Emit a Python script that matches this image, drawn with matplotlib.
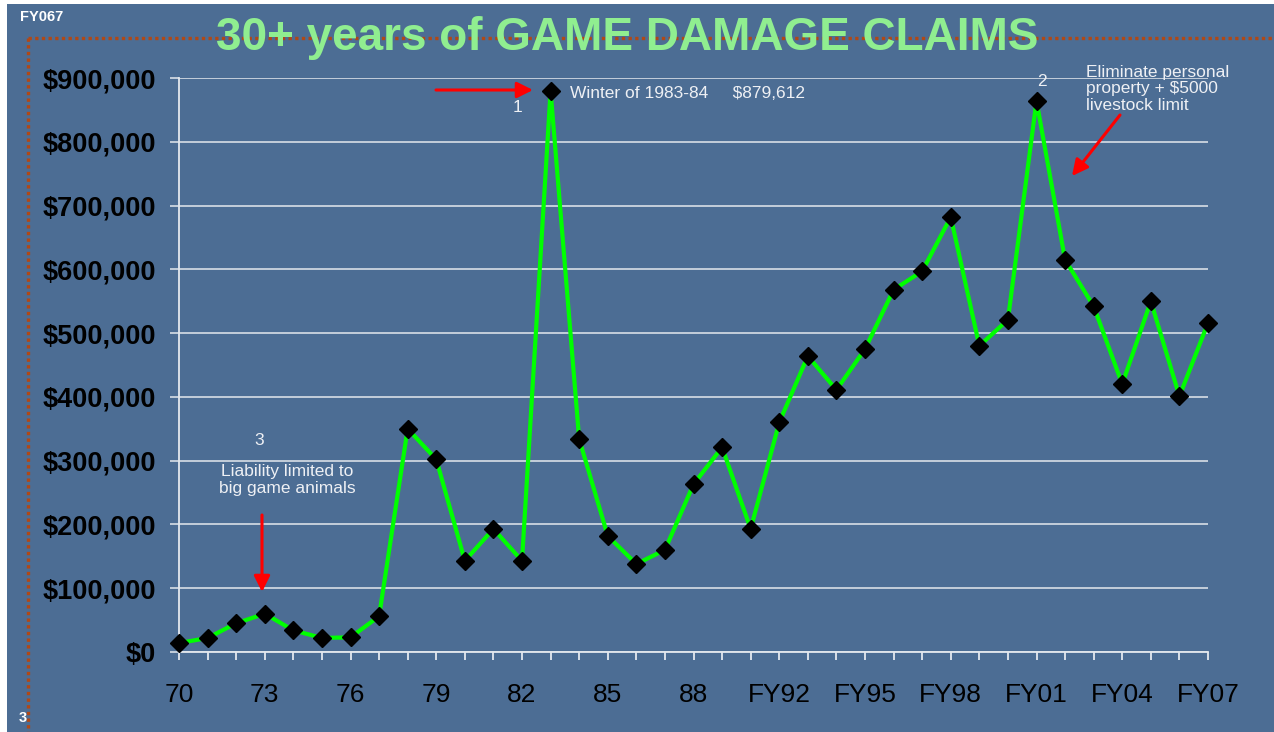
import matplotlib
matplotlib.use("Agg")
import matplotlib.pyplot as plt
from matplotlib.lines import Line2D
from matplotlib.patches import Rectangle
from matplotlib.ticker import FuncFormatter

plt.rcParams['font.family'] = ['Liberation Sans', 'DejaVu Sans']

# data
years = [str(y) for y in range(70, 91)] + ['FY%02d' % (y % 100) for y in range(92, 108)]
claims = [14000, 22000, 45000, 60000, 34000, 22000, 23000, 56000,
          350000, 302000, 143000, 193000, 143000, 879612, 334000, 182000,
          138000, 160000, 263000, 321000, 193000, 360000, 464000, 411000,
          475000, 568000, 597000, 682000, 480000, 521000, 864000, 615000,
          542000, 420000, 550000, 401000, 516000]
y_ticks = list(range(0, 900001, 100000))

W, H = 1274, 732
BG = '#4c6d94'


def fx(px):
    return px / W


def fy(py):
    return 1 - py / H


fig = plt.figure(figsize=(W / 100, H / 100), dpi=100, facecolor='white')
# slide background (white margin at top and left)
fig.patches.append(Rectangle((fx(7), 0), 1, fy(4), transform=fig.transFigure,
                             facecolor=BG, edgecolor='none', zorder=-2))
# dotted frame
fig.lines.append(Line2D([fx(28), 1], [fy(38), fy(38)], transform=fig.transFigure,
                        color='#b04816', lw=2.4, linestyle=(0, (1, 1)), zorder=-1))
fig.lines.append(Line2D([fx(28), fx(28)], [fy(38), 0], transform=fig.transFigure,
                        color='#b04816', lw=2.4, linestyle=(0, (1, 1)), zorder=-1))

ax = fig.add_axes([fx(179), fy(652), fx(1208) - fx(179), fy(78) - fy(652)])
ax.set_zorder(2)
ax.set_facecolor('none')
x = list(range(len(years)))
ax.plot(x, claims, color='#00ff00', lw=3, zorder=3, clip_on=False,
        marker='D', markersize=9.5, markerfacecolor='black', markeredgecolor='black')

ax.set_xlim(0, len(years) - 1)
ax.set_ylim(0, 900000)
ax.set_xticks(x)
ax.set_xticklabels([lab if i % 3 == 0 else '' for i, lab in enumerate(years)])
ax.set_yticks(y_ticks)
ax.yaxis.set_major_formatter(FuncFormatter(lambda v, p: '${:,.0f}'.format(v)))
ax.yaxis.grid(True, color='#e4e8ee', lw=1.1)
ax.set_axisbelow(True)

for s in ['top', 'right']:
    ax.spines[s].set_visible(False)
for s in ['left', 'bottom']:
    ax.spines[s].set_color('#e4e8ee')
    ax.spines[s].set_linewidth(1.3)

ax.tick_params(axis='y', length=6.5, width=1.1, color='#e4e8ee', pad=10,
               labelsize=19.5, labelcolor='black')
ax.tick_params(axis='x', length=6, width=1.3, color='#e4e8ee', pad=16,
               labelsize=19, labelcolor='black')
for lab in ax.get_yticklabels():
    lab.set_fontweight('bold')

# title and slide text
fig.text(0.492, fy(38), '30+ years of GAME DAMAGE CLAIMS', color='#90ee90',
         fontsize=33, fontweight='bold', ha='center', va='center', zorder=5)
fig.text(fx(20), fy(17), 'FY067', color='white', fontsize=10.5,
         fontweight='bold', ha='left', va='center')
fig.text(fx(19), fy(718), '3', color='white', fontsize=10.5,
         fontweight='bold', ha='left', va='center')

txt = dict(color='#eef0f4', fontsize=12.5, zorder=5)
arrow = dict(arrowstyle='-|>,head_length=0.8,head_width=0.4', color='red',
             lw=2.2, mutation_scale=12, shrinkA=0, shrinkB=0)

# 1: winter peak
ax.annotate('', xy=(fx(533), fy(90)), xytext=(fx(436), fy(90)),
            xycoords='figure fraction', arrowprops=arrow)
fig.text(fx(518), fy(107), '1', ha='center', va='center', **txt)
fig.text(fx(570), fy(93), 'Winter of 1983-84     $879,612', ha='left',
         va='center', **txt)

# 2: personal property
fig.text(fx(1042), fy(81), '2', ha='center', va='center', **txt)
fig.text(fx(1086), fy(89), 'Eliminate personal\nproperty + $5000\nlivestock limit',
         ha='left', va='center', linespacing=1.1, **txt)
ax.annotate('', xy=(fx(1072), fy(176)), xytext=(fx(1120), fy(115)),
            xycoords='figure fraction', arrowprops=arrow)

# 3: liability
fig.text(fx(259), fy(441), '3', ha='center', va='center', **txt)
fig.text(fx(287), fy(480), 'Liability limited to\nbig game animals',
         ha='center', va='center', linespacing=1.1, **txt)
ax.annotate('', xy=(fx(262), fy(592)), xytext=(fx(262), fy(515)),
            xycoords='figure fraction', arrowprops=arrow)

fig.savefig('out.png', dpi=100, facecolor=fig.get_facecolor())
